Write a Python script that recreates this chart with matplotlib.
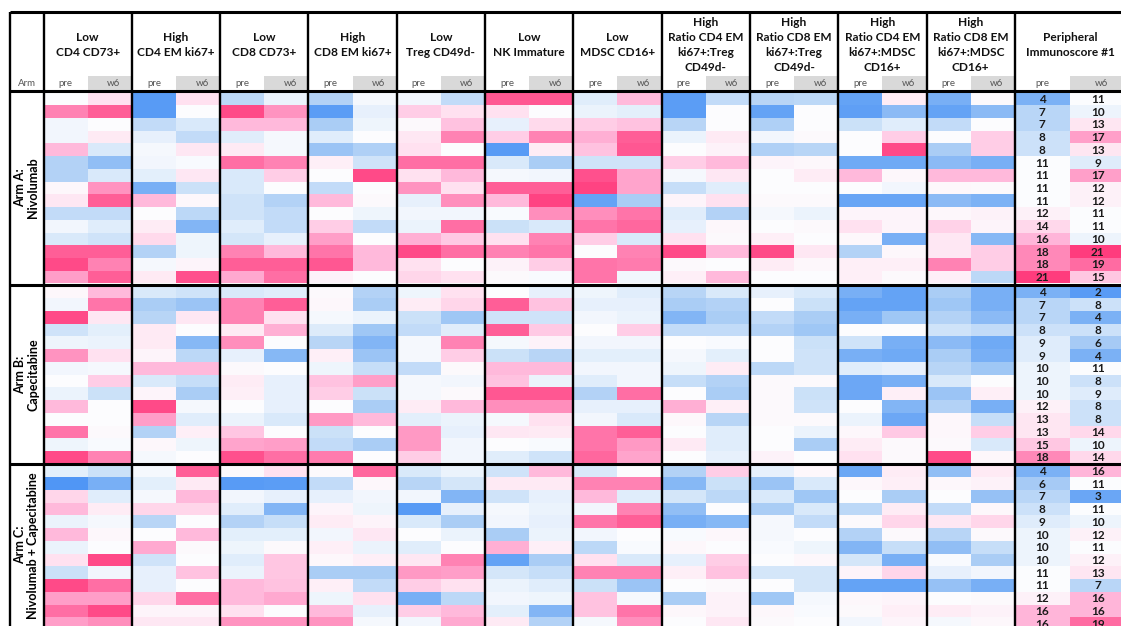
import numpy as np
import matplotlib.pyplot as plt
from matplotlib.colors import LinearSegmentedColormap, Normalize

plt.rcParams['font.family'] = ['Lato', 'DejaVu Sans']

# encabezados
groups = ['Low\nCD4 CD73+', 'High\nCD4 EM ki67+', 'Low\nCD8 CD73+', 'High\nCD8 EM ki67+',
          'Low\nTreg CD49d-', 'Low\nNK Immature', 'Low\nMDSC CD16+',
          'High\nRatio CD4 EM\nki67+:Treg\nCD49d-', 'High\nRatio CD8 EM\nki67+:Treg\nCD49d-',
          'High\nRatio CD4 EM\nki67+:MDSC\nCD16+', 'High\nRatio CD8 EM\nki67+:MDSC\nCD16+']
score_label = 'Peripheral\nImmunoscore #1'
timepoints = ['pre', 'w6']
arms = ['Arm A:\nNivolumab', 'Arm B:\nCapecitabine', 'Arm C:\nNivolumab + Capecitabine']

# niveles de color (-4 azul ... 0 blanco ... 4 rosa), una lista por columna (pre, w6 de cada grupo)
arm_a = [
    [0, 3, -0.3, -0.3, 2, -1.8, -1.8, 0.2, 0.8, -1.5, -0.3, -1, 3.5, 3.8, 2.5],
    [1, 3.5, 0, 0.7, -1, -2.5, -1, 2.7, 3.5, -1.5, -0.8, -1.2, 3.5, 3, 3.5],
    [-3.8, -3.8, -1.5, -0.6, -0.2, -0.3, -0.7, -3, 2, 0, 0.6, 1.2, -1.8, -0.2, 0.7],
    [1, 0, -1, -1.5, 0.8, -0.1, 0.8, -1.3, 0.2, -1.6, -2.8, -0.4, -0.4, 0.3, 3.7],
    [-1.6, 3.8, 2, -0.8, 0.7, 3.3, -1, -1, -1.2, -1.2, -0.8, -1.1, 3, 3.5, 2.3],
    [-0.5, 2.7, 2, -0.2, -0.2, 3, 1.5, 0, -1.8, -1.5, -1.5, -0.6, 2, 3.5, 3.3],
    [-1.8, -3.7, -2, -0.8, -2.3, 0.5, 0, -1.5, 2, 0, 1.5, 2.5, 3.2, 3.6, 0.4],
    [-0.2, -0.6, -0.4, 0, -1.9, -1.2, 3.8, 0, 0.1, -0.4, -1.5, 0, 2, 2, 0],
    [-0.3, 1.5, 0.1, 0.8, 1, 3.3, 1, 2.7, -0.6, -0.3, -0.5, 2.2, 3.8, 1, 1.3],
    [-1.5, 1, 1.8, 3, 0, 3.3, 2, 1, 2.8, -0.3, 3.3, 1.6, 3.3, 0, 1],
    [3.6, 1, -0.6, 1.5, -3.8, -1, -0.2, 3.5, 2, -0.1, -1.3, 1, 3, 0.4, 0.1],
    [3.6, 0, 1.2, 3, 0.6, -2, -0.3, 3.5, 3.9, 2.8, -1, 3, 3.2, 1.5, -0.1],
    [-0.8, -0.5, 1.5, 2.2, 1.8, -1.2, 3.7, 3.9, -3.5, 2.8, 3.2, 1.5, 0, 3.2, 3.2],
    [2, -0.7, 1.8, 3.5, 3.6, -1.2, 2.4, 2.4, -2, 3.2, 3.4, -1, 3, 3.1, -0.3],
    [-3.7, -3.7, -1.7, -0.5, 0, 1.5, -0.2, -1.4, 0.3, -0.8, -0.6, 1, 3.8, 0.1, 0.5],
    [-1.5, 0, 0, 0.7, 0.4, 2, 0.8, -0.8, 1, -1.8, 0.2, 0.1, 2, 0, 2],
    [-1.7, -3.5, -1.9, -0.3, -1.9, 0.3, 0, 0, 0.1, -0.2, 0, 0.5, 3.8, 0.6, 0],
    [-1.6, 0, 0, 0.1, -1.7, 0.2, 0.6, 0, 0.1, -0.5, 0.1, 0, 0.8, 0.2, 0],
    [-3.5, -3.6, -1.3, 0, 0, -3.2, 2, 0, -3.4, 0.3, 1, 0.2, -1.8, 0.5, 0.5],
    [0.6, -2.6, -0.8, 1.5, 3.8, -3.2, 0.2, -0.3, -3.4, 0.3, 0.3, -3, 0.2, 0.5, 0.1],
    [-3, -3.5, -1.5, 0, -2, -2.6, 2, 0.2, -2.6, 0.2, 1.4, 0.8, 0.8, 3, 0.5],
    [0.1, -2.6, 0, 1.5, 1.5, -3, 2, 0.1, -2.9, 0.4, 0.3, -2.7, 1.5, 1.5, -1.6],
]
arm_b = [
    [0.2, -0.3, 3.8, -1.2, -0.4, 2.7, -0.3, 0, -0.5, 2, 0, 3.2, -0.4, 3.8],
    [2, 3.2, 0.8, -0.7, -0.5, 1, -0.2, 1.5, -1.3, 0, 0, 0.1, -0.1, 3],
    [-1, -2, -1.7, 0.7, 0.7, 0.3, 2, -1, 0.3, 3.8, 2.5, -1.8, 0.2, -0.2],
    [-1.2, -2.3, 0.8, 0, -2.7, -1.6, 2, -1.4, -2, -0.2, -0.8, 0.5, -0.4, 0],
    [-1, 3, 3, 0.7, 2.8, -0.6, 0.1, 0.6, 0.5, 0, -0.5, 1.7, 2.4, 3.7],
    [-0.8, 3.5, 1, 2.2, 0, -2.7, 0, -0.6, -0.6, -0.6, -1, 0, 2.5, 3.3],
    [0.1, 0.2, -0.2, -0.9, -1.7, 0.5, -0.4, 1.8, 1.5, 0, 2.6, -1.3, -1.5, 3.1],
    [-1.8, -2, -0.5, -2.2, -2.8, -2.3, -1.4, 2.5, -1.3, -2, 2, 0, -2, 0],
    [-0.4, 0.6, -1.3, -1.5, -0.2, -0.2, -1.5, -0.2, -0.2, 0.6, -0.7, 2.6, 2.6, 1.5],
    [1, 1.3, -2.2, -0.8, 3, 1.5, 0.1, -0.3, 0.1, 2, -0.5, -0.6, -0.3, -0.3],
    [0, 3.5, -1.2, 3.5, -0.2, -1.3, 2, 1.8, 3.6, 2.8, -0.2, 0.8, 0, -0.8],
    [-0.6, 1.8, -1.2, 1.6, 0.4, -1.7, 2, -0.5, 3.6, 2.8, 1, 0.7, -0.1, -1.2],
    [-0.4, -0.6, -0.3, 0, -0.3, -0.7, -0.3, -0.8, -1.8, -0.6, -0.3, 3.2, 3.2, 3.4],
    [-0.8, -0.6, -0.5, 1.5, -0.3, -0.7, -0.3, -0.3, 3.3, -0.6, -1, 3.5, 2.6, 2.4],
    [-1.7, -2, -2.8, -1.5, 0, -0.2, -0.4, -1.4, 0, 2.2, 0.2, 0, 0.7, 0],
    [-1, -1.8, -2, -1.5, -0.1, -0.7, 0.6, -1.8, -2, 0.5, -1.7, -0.8, -0.8, -0.6],
    [-0.6, 0, -1.5, -1.8, 0, 0, -1.6, 0.1, 0.1, 0.1, 0.1, 0, 0, 0.4],
    [-1, -1.3, -2, -2.2, -1.3, -1.2, -1.2, 0.1, -1.3, -1.2, 0.1, -0.5, -2, 0],
    [-3, -3.5, -3, 0, -1.2, -3, -0.8, -3.3, -3.3, 0, -0.5, 0.2, 0.6, 1],
    [-3.5, -3.5, -2.2, 0, -3, -3.2, -0.6, -3, 0.5, -2.8, -3.3, 1.6, 0.1, 0.1],
    [-2, -2.2, -1.8, -1.2, -2.6, -2, -1.7, -1, -2.3, -1.8, 0.2, 0.2, 0.1, 3.8],
    [-3, -3, -2.6, -1.5, -3.2, -3, -2.2, 0, 0.5, -3, -1.4, 1.5, -1, 0.2],
]
arm_c = [
    [-0.7, -4, 1.3, 2, -0.5, 2, -0.5, 1, -1.3, 3.8, 2.5, 3.3, 2.5],
    [-1.3, -3, -0.8, 0.6, -0.2, 0.2, 0, 3.8, -0.3, 3.3, 2.5, 3.8, 2.8],
    [-0.2, -0.7, -0.2, 1.3, -1.7, 0, 2.3, -1.2, -0.6, -0.6, 1.3, 0.3, 0.8],
    [3.5, 0.7, 2, 1.3, 0, 2, 0.1, 0, 1.8, 0, 3.3, 0.3, 0.8],
    [0.1, -3.8, -0.3, -0.8, -1.8, -0.7, -0.4, -0.8, -0.5, 2, 2, 1, 2.7],
    [1, -3.7, -0.6, -2.8, -1.4, -0.7, 0.1, 1.7, 1.7, 1.8, 2.3, 0, 2.7],
    [0.1, -1.5, -0.6, 0.3, 0.6, -0.3, 0.5, 0.2, -2, 0.5, -0.4, 2, 2.7],
    [3.4, 0.2, -0.3, -0.4, 0.3, 0.8, -0.5, 0.5, -2, -1.5, 1, -0.6, -0.2],
    [-1, -1.7, -0.3, -3.8, -1, 0, -0.8, 0.8, 2.6, 1.5, -3, 1.5, -0.3],
    [-0.5, -1.1, -2.8, -0.6, -2, -0.5, 0, 3, 2.5, 1, -1.6, 2, 2.3],
    [-1.2, 0.7, -1.2, -0.2, -0.3, -2, 2.2, -3.5, -1.1, -0.5, -0.3, -0.7, 0.7],
    [2, 0.7, -0.6, -0.5, -0.6, -0.5, 0.5, -2, -1.4, -0.8, -0.4, -2.8, -1.8],
    [-1, 3, 2, -0.3, 3.2, -0.3, -1.6, 1, 3, -1.3, 1.8, 1.8, -0.2],
    [0, 3, -0.8, 3, 3.5, 0, -0.1, -1, 3, -2.3, -0.2, 3.2, 2.8],
    [-1.8, -2.7, -1.1, -2.5, -3, -0.1, 0.2, -0.6, 0.5, 0, -2, 0.2, 0],
    [1.5, -1.3, -1.6, 0, -2.7, 0.2, 0, 1.5, 1.8, 0.1, 0.4, 0.4, 0.8],
    [-0.6, -2.3, -1, -2, -0.2, -0.2, -0.1, 0, -1.1, 0, -2.2, 0.2, 0.1],
    [0.2, -1, -2.2, -1, -1.5, 0, -0.4, 0.2, -1.1, -1.1, -0.2, -0.1, 0],
    [-3.3, 0.2, 0, -1.6, 0.1, -1.8, -2.8, -1.1, 0.3, -3.5, 0.2, 0.1, -0.3],
    [0.6, 0.5, -2, 0.6, 1.3, 0.1, -1.4, -3, 1.3, -3.5, 0.3, 0.5, 0.3],
    [-2.5, 0.2, 0, -1.5, 0.8, -1.7, -2.5, -0.1, -0.6, -2.4, 0, 0.6, -0.2],
    [0.7, 0.4, -2.4, 0.2, 1.3, 0.1, -1.4, -2, -0.3, -3, 0.1, 0.4, 0.2],
]

# Peripheral Immunoscore #1
score_a_pre = [4, 7, 7, 8, 8, 11, 11, 11, 11, 12, 14, 16, 18, 18, 21]
score_a_w6 = [11, 10, 13, 17, 13, 9, 17, 12, 12, 11, 11, 10, 21, 19, 15]
score_b_pre = [4, 7, 7, 8, 9, 9, 10, 10, 10, 12, 13, 13, 15, 18]
score_b_w6 = [2, 8, 4, 8, 6, 4, 11, 8, 9, 8, 8, 14, 10, 14]
score_c_pre = [4, 6, 7, 8, 9, 10, 10, 10, 11, 11, 12, 16, 16]
score_c_w6 = [16, 11, 3, 11, 10, 12, 11, 12, 13, 7, 16, 16, 19]

niveles = [arm_a, arm_b, arm_c]
scores = [(score_a_pre, score_a_w6), (score_b_pre, score_b_w6), (score_c_pre, score_c_w6)]

cmap = LinearSegmentedColormap.from_list('bw_pink', [
    (0.0, '#5096F5'), (0.125, '#78AFF5'), (0.25, '#AACDF5'), (0.375, '#D9E9FA'),
    (0.5, '#FCFCFE'), (0.625, '#FFE2F0'), (0.75, '#FFBADC'), (0.875, '#FF84B5'),
    (1.0, '#FF3C7D')])
norm = Normalize(-4, 4)
norm_score = Normalize(11 - 4 * 2.4, 11 + 4 * 2.4)

fig = plt.figure(figsize=(11.21, 6.26), dpi=100)
ax = fig.add_axes([0, 0, 1, 1])
ax.set_xlim(0, 1121)
ax.set_ylim(626, 0)
ax.axis('off')

# geometria de la tabla (pixeles)
x_left, x_arm, gw = 10, 43.5, 88.3
y_top, y_sub, rh = 12, 76, 12.73
arm_starts = [92.5, 285.5, 464.5]
x_edges = x_arm + np.arange(2 * len(groups) + 1) * gw / 2
x_score = x_edges[-1]
score_edges = np.array([x_score, x_score + 55, x_score + 111])

for k in range(3):
    vals = np.array(niveles[k]).T
    n = vals.shape[0]
    y_edges = arm_starts[k] + np.arange(n + 1) * rh
    ax.pcolormesh(x_edges, y_edges, vals, cmap=cmap, norm=norm, shading='flat', antialiased=False)
    sc = np.array(scores[k]).T
    ax.pcolormesh(score_edges, y_edges, sc, cmap=cmap, norm=norm_score, shading='flat', antialiased=False)
    yc = (y_edges[:-1] + y_edges[1:]) / 2
    for j in range(2):
        xc = (score_edges[j] + score_edges[j + 1]) / 2
        for i in range(n):
            ax.text(xc, yc[i] + 0.5, str(sc[i, j]), ha='center', va='center', fontsize=8.5,
                    fontweight='bold', color='#1a1a1a')
    # etiqueta del brazo
    yc_arm = min((y_edges[0] + y_edges[-1]) / 2, (y_edges[0] + 626) / 2)
    ax.text((x_left + x_arm) / 2, yc_arm, arms[k], rotation=90, ha='center', va='center',
            fontsize=9, fontweight='bold', linespacing=1.15, multialignment='center')

# subencabezado pre / w6
sub_edges = np.concatenate([x_edges, score_edges[1:]])
sub_centers = (sub_edges[:-1] + sub_edges[1:]) / 2
sub_widths = np.diff(sub_edges)
is_w6 = np.arange(len(sub_centers)) % 2 == 1
ax.bar(sub_centers[is_w6], 13.5, width=sub_widths[is_w6], bottom=y_sub, color='#D9D9D9')
for i, xc in enumerate(sub_centers):
    ax.text(xc + (4 if i % 2 else 0), y_sub + 7.5, timepoints[i % 2], ha='center', va='center',
            fontsize=7, color='#555555')
ax.text((x_left + x_arm) / 2, y_sub + 7.5, 'Arm', ha='center', va='center', fontsize=7,
        color='#555555')

# titulos de grupo
for g, label in enumerate(groups + [score_label]):
    xc = x_arm + gw * (g + 0.5) if g < len(groups) else (score_edges[0] + score_edges[-1]) / 2
    ax.text(xc, 45, label, ha='center', va='center', fontsize=8.6, fontweight='bold',
            linespacing=1.48, color='#111111')

# lineas
ax.hlines([y_top, 91, 284.5, 464], x_left, 1121, color='black', lw=2.2)
ax.vlines([x_left, x_arm] + list(x_edges[2::2]), y_top, 626, color='black', lw=1.7)

fig.savefig('out.png', dpi=100)
